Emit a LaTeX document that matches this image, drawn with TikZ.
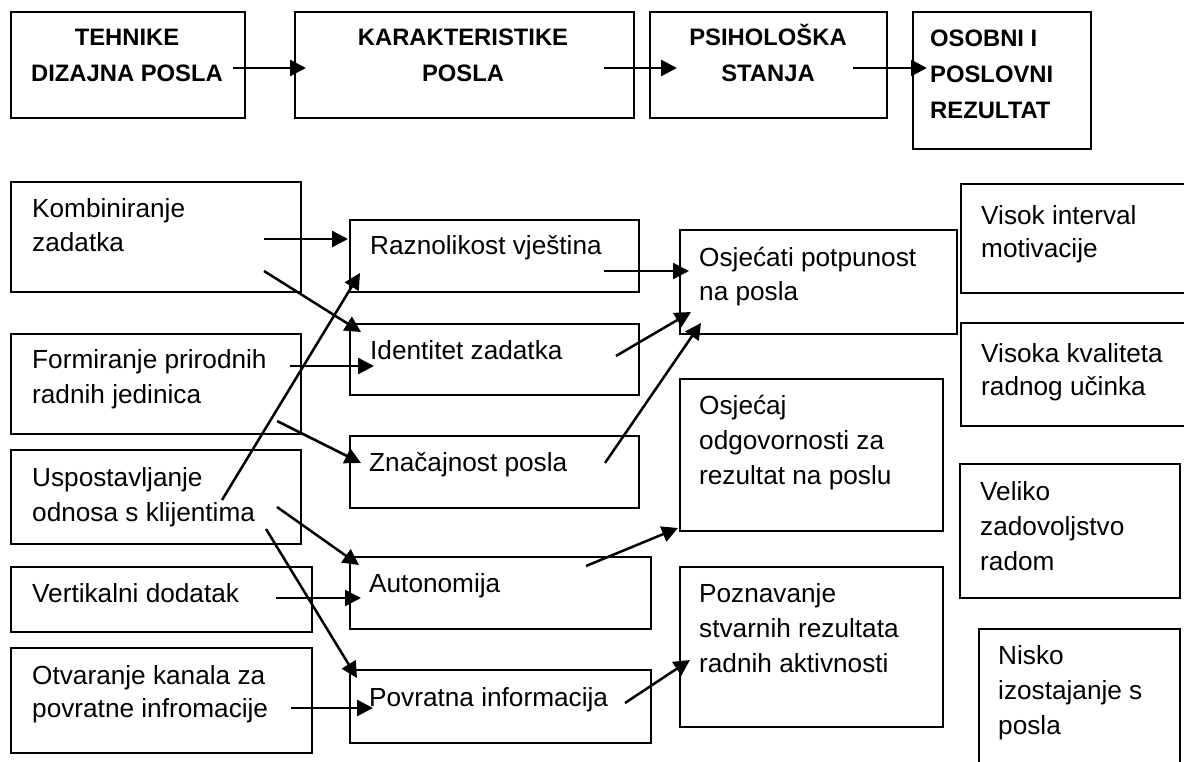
\documentclass[tikz,border=0pt]{standalone}
\usepackage{fontspec}
\setmainfont{Liberation Sans}
\usetikzlibrary{arrows.meta}
\newcommand\mybox[5]{\node[box, minimum width={#4-#2}, minimum height={#5-#3}] (#1) at (#2,#3) {};}
\begin{document}
\begin{tikzpicture}[x=1pt,y=-1pt,
  box/.style={draw, line width=2.2pt, inner sep=0pt, anchor=north west},
  lbl/.style={anchor=base west, inner sep=0pt, align=left, font=\fontsize{26.2}{35}\selectfont},
  hdr/.style={anchor=base, inner sep=0pt, align=center, font=\bfseries\fontsize{23.8}{36}\selectfont},
  hdrl/.style={anchor=base west, inner sep=0pt, align=left, font=\bfseries\fontsize{23.8}{36}\selectfont},
  arr/.style={line width=2.5pt, -{Triangle[length=16pt,width=16pt]}}]
\clip (0,0) rectangle (1184,762);
\fill[white] (0,0) rectangle (1184,762);
% top row
\mybox{tehnike}{10}{11}{244}{117}
\mybox{karakt}{294}{11}{633}{117}
\mybox{psih}{649}{11}{886}{117}
\mybox{osobni}{912}{11}{1090}{148}
\node[hdr] (tTeh) at (127,82) {TEHNIKE\\DIZAJNA POSLA};
\node[hdr] (tKar) at (463,82) {KARAKTERISTIKE\\POSLA};
\node[hdr] (tPsi) at (768,82) {PSIHOLOŠKA\\STANJA};
\node[hdrl] (tOso) at (930,119) {OSOBNI I\\POSLOVNI\\REZULTAT};
% left column
\mybox{komb}{10}{181}{300}{291}
\mybox{form}{10}{333}{300}{433}
\mybox{usp}{10}{449}{300}{543}
\mybox{vert}{10}{566}{311}{631}
\mybox{otv}{10}{647}{311}{752}
\node[lbl] (tKomb) at (32,252) {Kombiniranje\\zadatka};
\node[lbl] (tForm) at (32,403) {Formiranje prirodnih\\radnih jedinica};
\node[lbl] (tUsp) at (32,521) {Uspostavljanje\\odnosa s klijentima};
\node[lbl] (tVert) at (32,602) {Vertikalni dodatak};
\node[lbl, font=\fontsize{26.2}{33}\selectfont] (tOtv) at (32,717) {Otvaranje kanala za\\povratne infromacije};
% second column
\mybox{razn}{349}{219}{638}{291}
\mybox{ident}{349}{323}{638}{394}
\mybox{znac}{349}{435}{638}{507}
\mybox{auto}{349}{556}{650}{628}
\mybox{povr}{349}{669}{650}{742}
\node[lbl] (tRazn) at (370,255) {Raznolikost vještina};
\node[lbl] (tIdent) at (370,359) {Identitet zadatka};
\node[lbl] (tZnac) at (369,471) {Značajnost posla};
\node[lbl] (tAuto) at (369,592) {Autonomija};
\node[lbl] (tPovr) at (369,706) {Povratna informacija};
% third column
\mybox{osj}{679}{229}{956}{333}
\mybox{odg}{679}{378}{942}{530}
\mybox{pozn}{679}{566}{942}{726}
\node[lbl] (tOsj) at (699,301) {Osjećati potpunost\\na posla};
\node[lbl] (tOdg) at (699,484) {Osjećaj\\odgovornosti za\\rezultat na poslu};
\node[lbl] (tPozn) at (699,672) {Poznavanje\\stvarnih rezultata\\radnih aktivnosti};
% fourth column
\mybox{visok}{960}{183}{1200}{292}
\mybox{kval}{960}{322}{1200}{425}
\mybox{veliko}{959}{463}{1179}{597}
\mybox{nisko}{978}{628}{1179}{790}
\node[lbl, font=\fontsize{26.2}{33}\selectfont] (tVisok) at (981,258) {Visok interval\\motivacije};
\node[lbl, font=\fontsize{26.2}{33}\selectfont] (tKval) at (981,395) {Visoka kvaliteta\\radnog učinka};
\node[lbl] (tVel) at (980,570) {Veliko\\zadovoljstvo\\radom};
\node[lbl] (tNis) at (998,734) {Nisko\\izostajanje s\\posla};
% arrow end points
\coordinate (a1s) at (233,68);  \coordinate (a1e) at (306,68);
\coordinate (a2s) at (604,68);  \coordinate (a2e) at (677,68);
\coordinate (a3s) at (853,68);  \coordinate (a3e) at (927,68);
\coordinate (b1s) at (264,239); \coordinate (b1e) at (348,239);
\coordinate (b2s) at (264,271); \coordinate (b2e) at (361,332);
\coordinate (b3s) at (290,366); \coordinate (b3e) at (374,366);
\coordinate (b4s) at (277,421); \coordinate (b4e) at (361,463);
\coordinate (b5s) at (222,500); \coordinate (b5e) at (360,273);
\coordinate (b6s) at (277,507); \coordinate (b6e) at (359,565);
\coordinate (b7s) at (266,529); \coordinate (b7e) at (357,678);
\coordinate (b8s) at (276,598); \coordinate (b8e) at (361,598);
\coordinate (b9s) at (291,708); \coordinate (b9e) at (373,708);
\coordinate (c1s) at (604,271); \coordinate (c1e) at (689,271);
\coordinate (c2s) at (616,356); \coordinate (c2e) at (691,312);
\coordinate (c3s) at (605,463); \coordinate (c3e) at (701,323);
\coordinate (c4s) at (586,566); \coordinate (c4e) at (678,528);
\coordinate (c5s) at (625,703); \coordinate (c5e) at (690,660);
% arrows
\foreach \a in {a1,a2,a3,b1,b2,b3,b4,b5,b6,b7,b8,b9,c1,c2,c3,c4,c5}
  \draw[arr] (\a s) -- (\a e);
\end{tikzpicture}
\end{document}
